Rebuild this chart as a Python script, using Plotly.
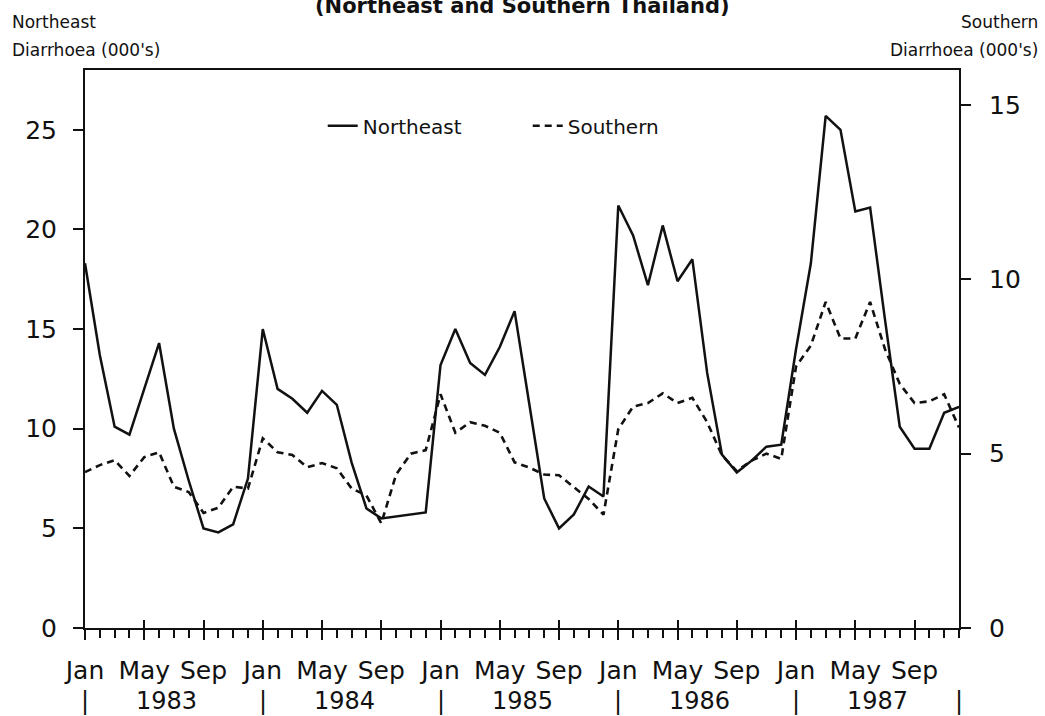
import plotly.graph_objects as go

# ---- data ----
years = [1983, 1984, 1985, 1986, 1987]
month_labels = ["Jan", "May", "Sep"]
month_label_offsets = [0, 4, 8]
n_months = 60

northeast = [18.3, 13.7, 10.1, 9.7, 12.0, 14.3, 10.0, 7.4, 5.0, 4.8, 5.2, 7.5,
             15.0, 12.0, 11.5, 10.8, 11.9, 11.2, 8.3, 6.0, 5.5, 5.6, 5.7, 5.8,
             13.2, 15.0, 13.3, 12.7, 14.1, 15.9, 11.2, 6.5, 5.0, 5.7, 7.1, 6.6,
             21.2, 19.7, 17.2, 20.2, 17.4, 18.5, 12.8, 8.7, 7.8, 8.4, 9.1, 9.2,
             14.0, 18.3, 25.7, 25.0, 20.9, 21.1, 15.5, 10.1, 9.0, 9.0, 10.8, 11.1]

southern = [4.47, 4.67, 4.81, 4.36, 4.9, 5.04, 4.05, 3.9, 3.3, 3.45, 4.05, 4.0,
            5.44, 5.04, 4.96, 4.61, 4.73, 4.58, 4.0, 3.8, 3.0, 4.4, 5.0, 5.1,
            6.7, 5.6, 5.9, 5.8, 5.6, 4.75, 4.6, 4.4, 4.38, 4.05, 3.7, 3.25,
            5.7, 6.35, 6.45, 6.73, 6.45, 6.6, 5.9, 4.95, 4.5, 4.8, 5.0, 4.85,
            7.5, 8.1, 9.35, 8.3, 8.3, 9.35, 8.0, 7.0, 6.45, 6.5, 6.7, 5.75]

left_ticks = [0, 5, 10, 15, 20, 25]
right_ticks = [0, 5, 10, 15]

# ---- derived ----
x = list(range(n_months))
major_vals, major_text = [], []
for k, yr in enumerate(years):
    for lab, off in zip(month_labels, month_label_offsets):
        major_vals.append(12 * k + off)
        major_text.append(lab)

INK = "#111111"
FONT = "DejaVu Sans"

fig = go.Figure()
fig.add_trace(go.Scatter(x=x, y=northeast, mode="lines", name="Northeast",
                         line=dict(color=INK, width=2.5), yaxis="y"))
fig.add_trace(go.Scatter(x=x, y=southern, mode="lines", name="Southern",
                         line=dict(color=INK, width=2.6, dash="7px,5px"), yaxis="y2"))

fig.update_layout(
    width=1045, height=716,
    margin=dict(l=85, r=86, t=70, b=88),
    plot_bgcolor="white", paper_bgcolor="white",
    font=dict(family=FONT, color=INK),
    showlegend=True,
    legend=dict(orientation="h", x=0.272, y=0.935, xanchor="left", yanchor="top",
                font=dict(size=20, family=FONT, color=INK),
                entrywidth=160, entrywidthmode="pixels",
                bgcolor="rgba(0,0,0,0)"),
    xaxis=dict(range=[0, n_months - 1], tickmode="array", tickvals=major_vals,
               ticktext=major_text, ticks="outside", ticklen=10, tickwidth=2,
               tickcolor=INK, showline=True, linecolor=INK, linewidth=2,
               mirror=True, showgrid=False, zeroline=False,
               tickfont=dict(size=25, family=FONT, color=INK),
               ticklabelstandoff=9,
               minor=dict(tickmode="linear", tick0=0, dtick=1, ticks="outside",
                          ticklen=8, tickwidth=2, tickcolor=INK, showgrid=False)),
    xaxis3=dict(range=[0, n_months - 1], overlaying="x", anchor="y", side="bottom",
                tickmode="array", tickvals=major_vals + [n_months - 1],
                ticks="inside", ticklen=8, tickwidth=2, tickcolor=INK,
                showticklabels=False, showline=False, showgrid=False, zeroline=False),
    yaxis=dict(range=[0, 28], tickmode="array", tickvals=left_ticks,
               ticks="outside", ticklen=10, tickwidth=2, tickcolor=INK,
               showline=True, linecolor=INK, linewidth=2, showgrid=False,
               zeroline=False, tickfont=dict(size=25, family=FONT, color=INK),
               ticklabelstandoff=11),
    yaxis2=dict(range=[0, 16], overlaying="y", side="right", anchor="x",
                tickmode="array", tickvals=right_ticks,
                ticks="outside", ticklen=10, tickwidth=2, tickcolor=INK,
                showline=True, linecolor=INK, linewidth=2, showgrid=False,
                zeroline=False, tickfont=dict(size=25, family=FONT, color=INK),
                ticklabelstandoff=13),
)

# invisible trace to activate xaxis3 (major tick marks crossing the axis)
fig.add_trace(go.Scatter(x=[0], y=[0], xaxis="x3", yaxis="y", mode="markers",
                         marker=dict(opacity=0), showlegend=False, hoverinfo="skip"))

annotations = []
# title (partially cut at top, as in the reference)
annotations.append(dict(text="<b>(Northeast and Southern Thailand)</b>", xref="paper", yref="paper",
                        x=0.5, y=1.115, xanchor="center", yanchor="middle", showarrow=False,
                        font=dict(size=21, family=FONT, color=INK)))
# axis titles
for txt, yy in [("Northeast", 1.086), ("Diarrhoea (000's)", 1.036)]:
    annotations.append(dict(text=txt, xref="paper", yref="paper", x=-0.086, y=yy,
                            xanchor="left", yanchor="middle", showarrow=False,
                            font=dict(size=17, family=FONT, color=INK)))
for txt, yy in [("Southern", 1.086), ("Diarrhoea (000's)", 1.036)]:
    annotations.append(dict(text=txt, xref="paper", yref="paper", x=1.093, y=yy,
                            xanchor="right", yanchor="middle", showarrow=False,
                            font=dict(size=17, family=FONT, color=INK)))
# year labels and separators
for k, yr in enumerate(years):
    annotations.append(dict(text=str(yr), xref="x", yref="paper", x=12 * k + 5.5, y=-0.13,
                            xanchor="center", yanchor="middle", showarrow=False,
                            font=dict(size=24, family=FONT, color=INK)))
    annotations.append(dict(text="|", xref="x", yref="paper", x=12 * k, y=-0.13,
                            xanchor="center", yanchor="middle", showarrow=False,
                            font=dict(size=24, family=FONT, color=INK)))
annotations.append(dict(text="|", xref="x", yref="paper", x=n_months - 1, y=-0.13,
                        xanchor="center", yanchor="middle", showarrow=False,
                        font=dict(size=24, family=FONT, color=INK)))
fig.update_layout(annotations=annotations)

fig.write_html("out.html", config={"displayModeBar": False},
               post_script="document.body.style.margin='0';document.body.style.padding='0';")
